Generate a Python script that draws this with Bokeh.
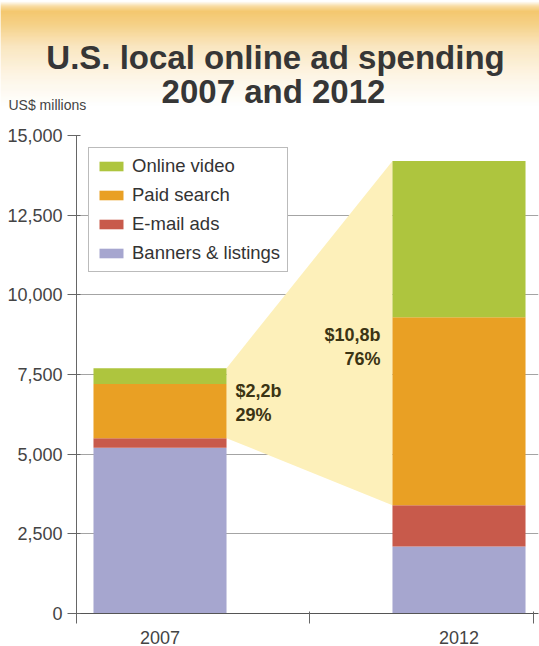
import numpy as np
from bokeh.plotting import figure
from bokeh.models import (Range1d, Label, Legend, LegendItem, FixedTicker,
                          NumeralTickFormatter, ColumnDataSource)
from bokeh.layouts import column
from bokeh.embed import file_html
from bokeh.resources import INLINE

# ---- data (US$ millions) ----
years = ["2007", "2012"]
banners = [5200, 2100]
email = [300, 1300]
paid = [1700, 5900]
video = [500, 4900]
series = ["Banners & listings", "E-mail ads", "Paid search", "Online video"]
y_ticks = [0, 2500, 5000, 7500, 10000, 12500, 15000]

colors = ["#A6A6CF", "#C85A4B", "#E9A024", "#AEC53E"]
FONT = "Liberation Sans"
W, H_TOP, H_CHART = 539, 122, 524
BAR_W = 0.445

# ---- header: warm gradient band with the title ----
head = figure(width=W, height=H_TOP, x_range=Range1d(0, W), y_range=Range1d(0, H_TOP),
              output_backend="svg", toolbar_location=None, min_border=0,
              x_axis_location=None, y_axis_location=None, outline_line_color=None,
              frame_align=False)
head.grid.visible = False

stops_px = [0, 5, 10, 22, 45, 75, 105, 122]
stops_rgb = [(255, 255, 255), (248, 218, 155), (243, 196, 102), (245, 205, 125),
             (250, 229, 188), (253, 245, 228), (255, 255, 255), (255, 255, 255)]
rows = np.arange(H_TOP)
px_from_top = H_TOP - 1 - rows
chan = [np.interp(px_from_top, stops_px, [c[k] for c in stops_rgb]) for k in range(3)]
band_colors = ["#%02x%02x%02x" % (int(r), int(g), int(b)) for r, g, b in zip(*chan)]
head.quad(left=0, right=W, bottom=rows - 0.3, top=rows + 1.3, color=band_colors,
          line_color=None)

def header_text(x_px, base_px, text, size, bold=False, align="center", color="#333333"):
    head.add_layout(Label(x=x_px, y=H_TOP - base_px, text=text, text_font=FONT,
                          text_font_size=size, text_font_style="bold" if bold else "normal",
                          text_color=color, text_align=align, text_baseline="alphabetic"))

header_text(275, 57, "U.S. local online ad spending", "33px", bold=True, color="#363636")
header_text(273, 91, "2007 and 2012", "33px", bold=True, color="#363636")
header_text(8, 104, "US$ millions", "14px", align="left", color="#444444")

# ---- stacked bar chart ----
x = list(range(len(years)))
source = ColumnDataSource(dict(x=x, banners=banners, email=email, paid=paid, video=video))

p = figure(width=W, height=H_CHART, x_range=Range1d(-0.2793, 1.2659),
           y_range=Range1d(0, 15000), output_backend="svg", toolbar_location=None,
           min_border_left=76, min_border_right=1, min_border_top=13,
           min_border_bottom=33, outline_line_color=None, frame_align=False)

# wedge linking the paid search + online video share of each year
lo = [b + e for b, e in zip(banners, email)]
hi = [l + s + v for l, s, v in zip(lo, paid, video)]
wx = [x[0] + BAR_W / 2, x[1] - BAR_W / 2, x[1] - BAR_W / 2, x[0] + BAR_W / 2]
wy = [hi[0], hi[1], lo[1], lo[0]]
p.patch(wx, wy, fill_color="#FDF0BA", line_color=None)

bars = p.vbar_stack(["banners", "email", "paid", "video"], x="x", width=BAR_W,
                    color=colors, line_color=None, source=source)

for i, align, dx, dy in [(0, "left", 0.03, 0), (1, "right", -0.04, -14)]:
    share = paid[i] + video[i]
    pct = round(100 * share / hi[i])
    txt = ("$%.1fb" % (share / 1000)).replace(".", ",") + "\n%d%%" % pct
    edge = x[i] + BAR_W / 2 if align == "left" else x[i] - BAR_W / 2
    p.add_layout(Label(x=edge + dx, y=(lo[i] + hi[i]) / 2, y_offset=dy, text=txt,
                       text_font=FONT, text_font_style="bold", text_font_size="18px",
                       text_color="#3b3414", text_align=align, text_baseline="middle"))

# axes
p.yaxis.ticker = FixedTicker(ticks=y_ticks)
p.yaxis.formatter = NumeralTickFormatter(format="0,0")
p.yaxis.major_tick_out = 9
p.yaxis.major_tick_in = 4
p.yaxis.minor_tick_out = 0
p.yaxis.minor_tick_in = 0
p.yaxis.major_label_standoff = 5
p.yaxis.axis_line_color = "#666666"
p.yaxis.major_tick_line_color = "#666666"
p.yaxis.major_label_text_font = FONT
p.yaxis.major_label_text_font_size = "18px"
p.yaxis.major_label_text_color = "#444444"

p.xaxis.ticker = FixedTicker(ticks=x, minor_ticks=[-0.2793, 0.5, 1.25])
p.xaxis.major_label_overrides = {i: y for i, y in zip(x, years)}
p.xaxis.major_tick_out = 0
p.xaxis.major_tick_in = 0
p.xaxis.minor_tick_out = 10
p.xaxis.minor_tick_in = 2
p.xaxis.minor_tick_line_color = "#666666"
p.xaxis.major_label_standoff = 7
p.xaxis.axis_line_color = "#555555"
p.xaxis.major_label_text_font = FONT
p.xaxis.major_label_text_font_size = "18px"
p.xaxis.major_label_text_color = "#444444"

p.xgrid.visible = False
p.ygrid.ticker = FixedTicker(ticks=y_ticks)
p.ygrid.grid_line_color = "#A4A4A4"

items = [LegendItem(label=series[k], renderers=[bars[k]]) for k in reversed(range(len(series)))]
legend = Legend(items=items, location="top_left", margin=12, padding=7, spacing=7,
                glyph_width=30, glyph_height=12, label_height=18, label_standoff=6,
                label_text_font=FONT, label_text_font_size="18.5px",
                label_text_color="#333333", border_line_color="#777777",
                border_line_width=1, background_fill_color="white",
                background_fill_alpha=1)
p.add_layout(legend)

layout = column(head, p, spacing=0)
open("out.html", "w").write(file_html(layout, INLINE))
